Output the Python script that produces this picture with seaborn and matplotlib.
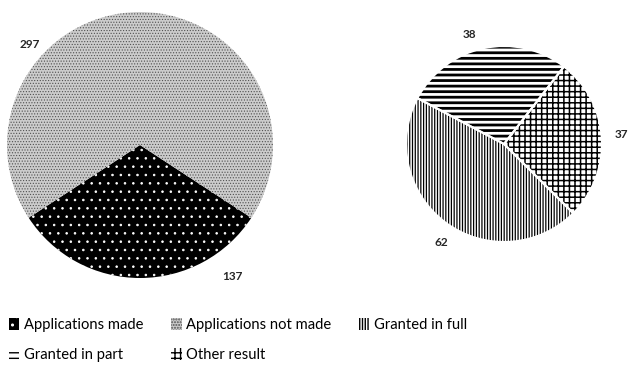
import matplotlib
matplotlib.use("Agg")
import matplotlib.pyplot as plt
import matplotlib.patches as mpatches
import seaborn as sns

# ---- data ----
left_labels = ["Applications made", "Applications not made"]
left_values = [137, 297]
right_labels = ["Granted in full", "Granted in part", "Other result"]
right_values = [62, 38, 37]

sns.set_theme(style="white")
plt.rcParams["font.family"] = ["Lato", "DejaVu Sans"]

left_styles = [
    dict(facecolor="black", edgecolor="white", hatch=".."),
    dict(facecolor="#cccccc", edgecolor="#505050", hatch="......"),
]
left_hlw = [0.6, 0.5]
right_styles = [
    dict(facecolor="white", edgecolor="black", hatch="||||||"),
    dict(facecolor="white", edgecolor="black", hatch="---"),
    dict(facecolor="white", edgecolor="black", hatch="+++"),
]
right_hlw = [0.9, 2.0, 1.1]

fig = plt.figure(figsize=(6.28, 3.74), dpi=100)
ax1 = fig.add_axes([7 / 628, 96 / 374, 266 / 628, 266 / 374])
ax2 = fig.add_axes([406 / 628, 132 / 374, 196 / 628, 196 / 374])

# left pie: "made" slice centred at the bottom
total = sum(left_values)
made_angle = left_values[0] / total * 360
w1, _ = ax1.pie(left_values, startangle=270 - made_angle / 2,
                wedgeprops=dict(linewidth=0))
for w, st, lw in zip(w1, left_styles, left_hlw):
    w.set_facecolor(st["facecolor"])
    w.set_edgecolor(st["edgecolor"])
    w.set_hatch(st["hatch"])
    if hasattr(w, "set_hatch_linewidth"):
        w.set_hatch_linewidth(lw)
ax1.set_xlim(-1, 1)
ax1.set_ylim(-1, 1)

# right pie
w2, _ = ax2.pie(right_values, startangle=-45, counterclock=False,
                wedgeprops=dict(linewidth=0))
for w, st, lw in zip(w2, right_styles, right_hlw):
    w.set_facecolor(st["facecolor"])
    w.set_edgecolor(st["edgecolor"])
    w.set_hatch(st["hatch"])
    if hasattr(w, "set_hatch_linewidth"):
        w.set_hatch_linewidth(lw)
ax2.pie(right_values, startangle=-45, counterclock=False,
        wedgeprops=dict(fill=False, edgecolor="white", linewidth=1.5))
ax2.set_xlim(-1, 1)
ax2.set_ylim(-1, 1)

# value labels
lab_kw = dict(fontsize=8.5, fontweight="bold", color="#262626",
              ha="center", va="center")
fig.text(30 / 628, 1 - 45 / 374, str(left_values[1]), **lab_kw)
fig.text(232 / 628, 1 - 276 / 374, str(left_values[0]), **lab_kw)
fig.text(441 / 628, 1 - 242 / 374, str(right_values[0]), **lab_kw)
fig.text(469 / 628, 1 - 34 / 374, str(right_values[1]), **lab_kw)
fig.text(621 / 628, 1 - 135 / 374, str(right_values[2]), **lab_kw)

# legend (row-major order for 3 columns)
all_labels = left_labels + right_labels
all_styles = left_styles + right_styles
handles = [mpatches.Patch(label=l, linewidth=0, **s) for l, s in zip(all_labels, all_styles)]
order = [0, 3, 1, 4, 2]
leg = fig.legend([handles[i] for i in order], [all_labels[i] for i in order],
                 ncol=3, loc="upper left", bbox_to_anchor=(9 / 628, 1 - 318 / 374),
                 frameon=False, fontsize=10.6, handlelength=0.7, handleheight=0.9,
                 handletextpad=0.3, columnspacing=1.9, labelspacing=1.05,
                 borderpad=0, borderaxespad=0)
for t in leg.get_texts():
    t.set_color("black")

fig.savefig("out.png", dpi=100)
